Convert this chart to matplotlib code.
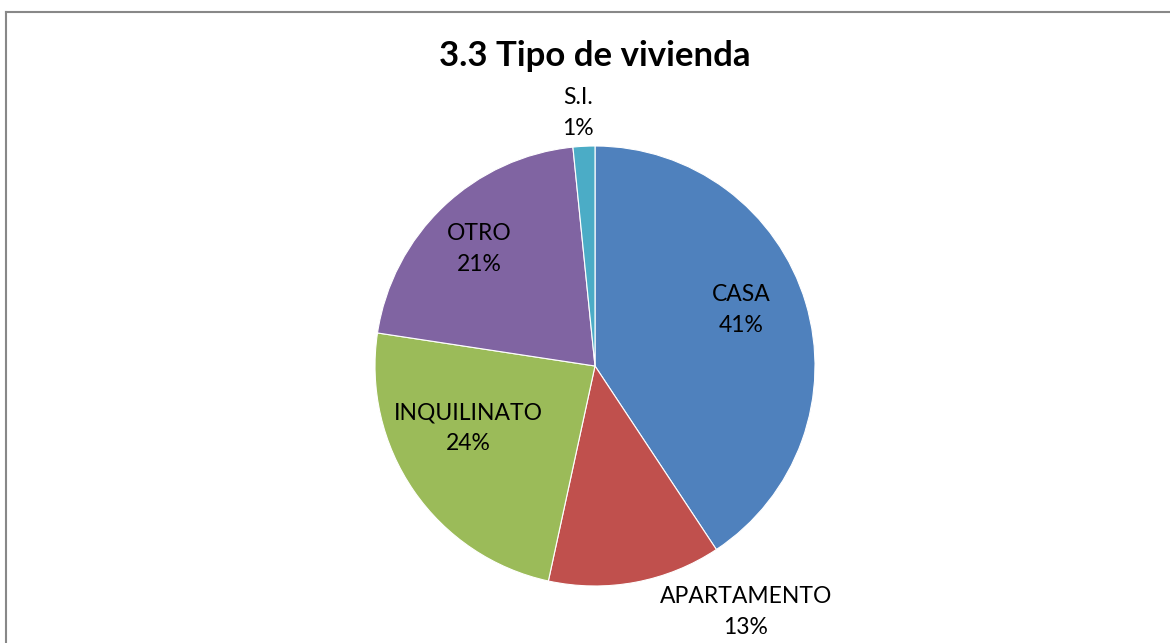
import matplotlib
matplotlib.use("Agg")
import matplotlib.pyplot as plt
from matplotlib.lines import Line2D

# slice shares (label text shows the rounded figure)
categories = ["CASA", "APARTAMENTO", "INQUILINATO", "OTRO", "S.I."]
shares = [40.7, 12.7, 24.0, 21.0, 1.6]
pct_labels = ["41%", "13%", "24%", "21%", "1%"]
colors = ["#4F81BD", "#C0504D", "#9BBB59", "#8064A2", "#4BACC6"]
# label anchor points, in pie-radius units from the centre
label_xy = [(0.664, 0.255), (0.686, -1.118), (-0.577, -0.282),
            (-0.527, 0.532), (-0.077, 1.15)]

plt.rcParams["font.family"] = ["Lato", "DejaVu Sans"]

W, H = 1170, 643
fig = plt.figure(figsize=(W / 100, H / 100), dpi=100)
cx, cy, r = 595, 366, 220
ax = fig.add_axes([(cx - r) / W, (H - cy - r) / H, 2 * r / W, 2 * r / H])
ax.pie(shares, colors=colors, startangle=90, counterclock=False, radius=1,
       wedgeprops=dict(edgecolor="white", linewidth=0.8))
ax.set_xlim(-1, 1); ax.set_ylim(-1, 1)
ax.set_aspect("equal")
ax.axis("off")

for name, pct, (x, y) in zip(categories, pct_labels, label_xy):
    ax.text(x, y, f"{name}\n{pct}", ha="center", va="center", fontsize=16.5,
            color="black", linespacing=1.55)

fig.text(cx / W, 1 - 56 / H, "3.3 Tipo de vivienda", ha="center", va="center",
         fontsize=25, fontweight="bold")

# chart-area border (only top and left visible in the crop)
fig.add_artist(Line2D([6 / W, 1], [1 - 11.5 / H] * 2, transform=fig.transFigure,
                      color="#888888", lw=1.5))
fig.add_artist(Line2D([5.5 / W] * 2, [0, 1 - 11.5 / H], transform=fig.transFigure,
                      color="#888888", lw=1.5))

fig.savefig("out.png", dpi=100)
